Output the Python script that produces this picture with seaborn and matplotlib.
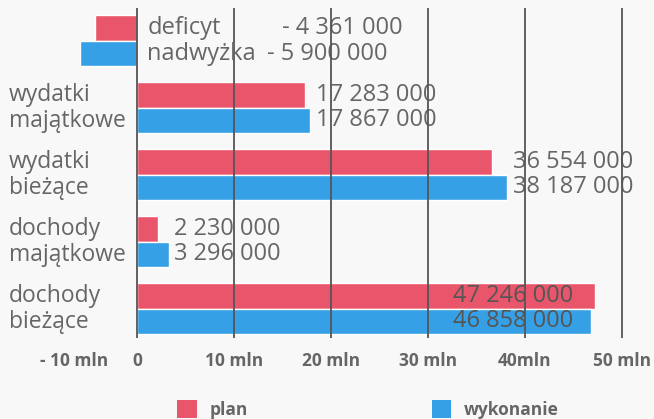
import pandas as pd
import matplotlib
matplotlib.use("Agg")
import matplotlib.pyplot as plt
import seaborn as sns
from matplotlib.patches import Patch
from matplotlib.transforms import blended_transform_factory

# --- data ---
categories = ["saldo", "wydatki\nmajątkowe", "wydatki\nbieżące",
              "dochody\nmajątkowe", "dochody\nbieżące"]
plan = [-4361000, 17283000, 36554000, 2230000, 47246000]
wykonanie = [-5900000, 17867000, 38187000, 3296000, 46858000]
series = ["plan", "wykonanie"]
saldo_names = ["deficyt", "nadwyżka"]
tick_values = [-10e6, 0, 10e6, 20e6, 30e6, 40e6, 50e6]
tick_labels = ["- 10 mln", "0", "10 mln", "20 mln", "30 mln", "40mln", "50 mln"]

colors = {"plan": "#e9566b", "wykonanie": "#36a0e6"}
text_col = "#666666"
bg = "#f8f8f8"

df = pd.DataFrame({
    "kategoria": categories * 2,
    "seria": ["plan"] * len(plan) + ["wykonanie"] * len(wykonanie),
    "wartosc": plan + wykonanie,
})

sns.set_style("white")
plt.rcParams["font.family"] = ["Open Sans", "DejaVu Sans"]

fig = plt.figure(figsize=(6.54, 4.19), dpi=100, facecolor=bg)
ax = fig.add_axes([0, 0.193, 1, 0.788])
ax.set_facecolor(bg)

bar_w = 0.76
sns.barplot(data=df, y="kategoria", x="wartosc", hue="seria", order=categories,
            hue_order=series, palette=colors, width=bar_w, orient="h",
            saturation=1, legend=False, ax=ax, zorder=2)

ax.set_xlim(-14.1e6, 53.3e6)
ax.set_ylim(4.44, -0.49)
for s in ax.spines.values():
    s.set_visible(False)
ax.set_xlabel("")
ax.set_ylabel("")
ax.set_yticks([])

# vertical grid lines drawn over the bars
for v in tick_values[1:]:
    ax.axvline(v, color="#555555", lw=1.3, zorder=5)

# x tick labels
ax.set_xticks(tick_values)
ax.set_xticklabels(tick_labels, fontsize=12.5, fontweight="bold", color=text_col)
ax.tick_params(axis="x", length=0, pad=10)
ax.get_xticklabels()[0].set_horizontalalignment("left")

# category labels on the left
trans = blended_transform_factory(ax.transAxes, ax.transData)
for i, cat in enumerate(categories[1:], start=1):
    ax.text(0.014, i, cat, transform=trans, ha="left", va="center",
            fontsize=16.5, color=text_col, linespacing=1.12)

off = bar_w / 4
mln = 1e6
fs = 17


def fmt(v):
    s = f"{abs(v):,}".replace(",", " ")
    return ("- " + s) if v < 0 else s


# saldo row: names and values
ax.text(1.1 * mln, -off, saldo_names[0], ha="left", va="center", fontsize=fs, color=text_col, zorder=6)
ax.text(1.1 * mln, off, saldo_names[1], ha="left", va="center", fontsize=fs, color=text_col, zorder=6)
ax.text(15 * mln, -off, fmt(plan[0]), ha="left", va="center", fontsize=fs, color=text_col, zorder=4)
ax.text(13.4 * mln, off, fmt(wykonanie[0]), ha="left", va="center", fontsize=fs, color=text_col, zorder=4)

# value labels for other rows
for i in range(1, len(categories)):
    top = max(plan[i], wykonanie[i])
    if top > 45 * mln:
        x, ha, col = top - 2.3 * mln, "right", "#555555"
    else:
        x, ha, col = top + 0.55 * mln, "left", text_col
    ax.text(x, i - off, fmt(plan[i]), ha=ha, va="center", fontsize=fs, color=col, zorder=4)
    ax.text(x, i + off, fmt(wykonanie[i]), ha=ha, va="center", fontsize=fs, color=col, zorder=4)

# legend
handles = [Patch(facecolor=colors[s], edgecolor="none") for s in series]
leg = fig.legend(handles, series, loc="center", bbox_to_anchor=(0.563, 0.022), ncol=2,
                 frameon=False, handlelength=1.1, handleheight=1.2, columnspacing=10.6,
                 handletextpad=0.75, prop={"weight": "bold", "size": 12.5})
for t in leg.get_texts():
    t.set_color(text_col)

fig.savefig("out.png", dpi=100, facecolor=bg)
